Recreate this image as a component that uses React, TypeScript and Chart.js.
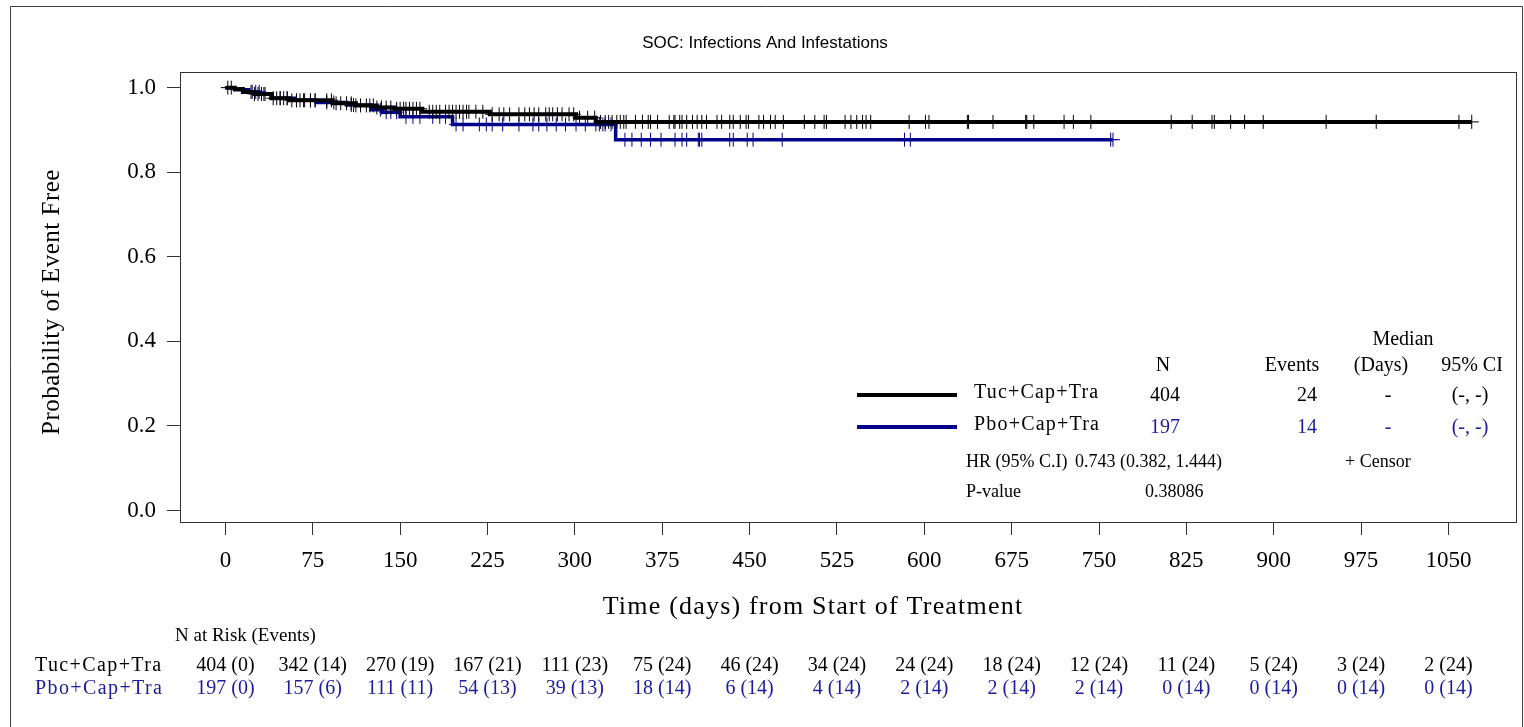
import React, { useEffect, useRef } from "react";
import { Chart, registerables } from "chart.js";

Chart.register(...registerables);

// ---- Data ----
const xTickValues = [0, 75, 150, 225, 300, 375, 450, 525, 600, 675, 750, 825, 900, 975, 1050];
const yTickValues = [0, 0.2, 0.4, 0.6, 0.8, 1.0];

const tucStepDays = [0, 8, 15, 25, 40, 55, 92, 112, 130, 145, 169, 227, 301, 318, 1070];
const tucStepSurv = [1.0, 0.997, 0.99, 0.985, 0.975, 0.97, 0.963, 0.958, 0.953, 0.95, 0.943, 0.937, 0.929, 0.919, 0.919];

const pboStepDays = [0, 8, 20, 30, 39, 60, 78, 104, 125, 135, 150, 195, 335, 762];
const pboStepSurv = [1.0, 0.995, 0.99, 0.985, 0.975, 0.97, 0.965, 0.959, 0.948, 0.942, 0.931, 0.913, 0.877, 0.877];

const tucCensorDays = [2, 5, 22, 25, 28, 31, 34, 41, 44, 47, 50, 53, 57, 61, 64, 68, 73, 77, 87, 91, 95, 99, 104, 108,
  112, 116, 121, 124, 127, 130, 134, 138, 142, 147, 150, 153, 155, 158, 161, 164, 167, 175, 178, 181, 184, 189, 192,
  195, 198, 201, 204, 207, 209, 215, 221, 229, 235, 239, 244, 252, 257, 261, 265, 269, 275, 278, 281, 285, 289, 295,
  299, 304, 311, 317, 322, 326, 329, 332, 336, 339, 342, 344, 352, 358, 363, 365, 371, 381, 385, 386, 390, 392, 396,
  401, 405, 409, 413, 422, 426, 433, 436, 442, 447, 449, 458, 462, 468, 472, 479, 497, 506, 514, 516, 532, 537, 542,
  547, 550, 554, 587, 601, 604, 637, 638, 659, 687, 688, 694, 720, 728, 743, 812, 830, 847, 849, 863, 875, 891, 945,
  988, 1059, 1070];

const pboCensorDays = [23, 26, 29, 33, 47, 53, 61, 67, 73, 77, 87, 93, 108, 110, 133, 138, 142, 147, 155, 161, 167,
  178, 184, 189, 198, 204, 218, 224, 229, 238, 252, 264, 269, 276, 284, 292, 301, 309, 318, 321, 324, 326, 331, 343,
  349, 357, 365, 374, 386, 392, 396, 406, 407, 409, 433, 436, 448, 453, 478, 583, 588, 760, 762];

const tucAtRisk = [404, 342, 270, 167, 111, 75, 46, 34, 24, 18, 12, 11, 5, 3, 2];
const tucAtRiskEvents = [0, 14, 19, 21, 23, 24, 24, 24, 24, 24, 24, 24, 24, 24, 24];
const pboAtRisk = [197, 157, 111, 54, 39, 18, 6, 4, 2, 2, 2, 0, 0, 0, 0];
const pboAtRiskEvents = [0, 6, 11, 13, 13, 14, 14, 14, 14, 14, 14, 14, 14, 14, 14];

const groupNames = ["Tuc+Cap+Tra", "Pbo+Cap+Tra"];
const groupN = ["404", "197"];
const groupEvents = ["24", "14"];
const groupMedian = ["-", "-"];
const groupCI = ["(-, -)", "(-, -)"];
const hrText = "0.743 (0.382, 1.444)";
const pValueText = "0.38086";

const titleText = "SOC: Infections And Infestations";
const xTitle = "Time (days) from Start of Treatment";
const yTitle = "Probability of Event Free";

// ---- Styles ----
const BLACK = "#000000";
const BLUE = "#00008B";
const BLUE_TEXT = "#1c1c9c";
const SERIF = "'Liberation Serif', 'Times New Roman', serif";
const SANS = "'Liberation Sans', Arial, sans-serif";

function survAt(days: number[], surv: number[], t: number) {
  let v = surv[0];
  for (let i = 0; i < days.length; i++) if (days[i] <= t) v = surv[i];
  return v;
}

function setSpacing(ctx: any, px: number) {
  if ("letterSpacing" in ctx) ctx.letterSpacing = `${px}px`;
}

const textPlugin = {
  id: "kmText",
  beforeDraw(chart: any) {
    const ctx = chart.ctx;
    ctx.save();
    ctx.fillStyle = "#ffffff";
    ctx.fillRect(0, 0, chart.width, chart.height);
    ctx.strokeStyle = "#404040";
    ctx.lineWidth = 1;
    ctx.beginPath();
    ctx.moveTo(10.5, chart.height);
    ctx.lineTo(10.5, 6.5);
    ctx.lineTo(1522.5, 6.5);
    ctx.lineTo(1522.5, chart.height);
    ctx.stroke();
    ctx.restore();
  },
  afterDraw(chart: any) {
    const ctx = chart.ctx;
    const a = chart.chartArea;
    const xs = chart.scales.x;
    ctx.save();
    // plot box
    ctx.strokeStyle = "#333333";
    ctx.lineWidth = 1;
    ctx.strokeRect(Math.round(a.left) + 0.5, Math.round(a.top) + 0.5, Math.round(a.right - a.left), Math.round(a.bottom - a.top));

    // title
    ctx.fillStyle = "#000";
    ctx.textBaseline = "middle";
    ctx.textAlign = "center";
    ctx.font = `17px ${SANS}`;
    ctx.fillText(titleText, 765, 43);

    // axis titles
    ctx.font = `26px ${SERIF}`;
    setSpacing(ctx, 1.2);
    ctx.fillText(xTitle, 813, 607);
    ctx.font = `25px ${SERIF}`;
    setSpacing(ctx, 0.5);
    ctx.save();
    ctx.translate(52, 302);
    ctx.rotate(-Math.PI / 2);
    ctx.fillText(yTitle, 0, 0);
    ctx.restore();
    setSpacing(ctx, 0);

    // legend table
    ctx.font = `20px ${SERIF}`;
    ctx.textAlign = "center";
    ctx.fillText("Median", 1403, 340);
    ctx.fillText("N", 1163, 366);
    ctx.fillText("Events", 1292, 366);
    ctx.fillText("(Days)", 1381, 366);
    ctx.fillText("95% CI", 1472, 366);
    const rowY = [395, 427];
    const lineCol = [BLACK, BLUE];
    const txtCol = ["#000", BLUE_TEXT];
    for (let i = 0; i < 2; i++) {
      ctx.strokeStyle = lineCol[i];
      ctx.lineWidth = 4;
      ctx.beginPath();
      ctx.moveTo(857, rowY[i]);
      ctx.lineTo(957, rowY[i]);
      ctx.stroke();
      ctx.fillStyle = "#000";
      ctx.textAlign = "left";
      setSpacing(ctx, 1.2);
      ctx.fillText(groupNames[i], 974, rowY[i] - 2);
      setSpacing(ctx, 0);
      ctx.fillStyle = txtCol[i];
      ctx.textAlign = "center";
      ctx.fillText(groupN[i], 1165, rowY[i] + 1);
      ctx.fillText(groupEvents[i], 1307, rowY[i] + 1);
      ctx.fillText(groupMedian[i], 1388, rowY[i] + 1);
      ctx.fillText(groupCI[i], 1470, rowY[i] + 1);
    }
    ctx.fillStyle = "#000";
    ctx.font = `18px ${SERIF}`;
    ctx.textAlign = "left";
    ctx.fillText("HR (95% C.I)", 966, 462);
    ctx.fillText(hrText, 1075, 462);
    ctx.fillText("+ Censor", 1345, 462);
    ctx.fillText("P-value", 966, 492);
    ctx.fillText(pValueText, 1145, 492);

    // at-risk table
    ctx.font = `19px ${SERIF}`;
    ctx.textAlign = "left";
    ctx.fillText("N at Risk (Events)", 175, 636);
    ctx.font = `20px ${SERIF}`;
    setSpacing(ctx, 1.4);
    ctx.fillText(groupNames[0], 35, 666);
    ctx.fillStyle = BLUE_TEXT;
    ctx.fillText(groupNames[1], 35, 689);
    setSpacing(ctx, 0);
    ctx.textAlign = "center";
    for (let i = 0; i < xTickValues.length; i++) {
      const px = xs.getPixelForValue(xTickValues[i]);
      ctx.fillStyle = "#000";
      ctx.fillText(`${tucAtRisk[i]} (${tucAtRiskEvents[i]})`, px, 666);
      ctx.fillStyle = BLUE_TEXT;
      ctx.fillText(`${pboAtRisk[i]} (${pboAtRiskEvents[i]})`, px, 689);
    }
    ctx.restore();
  },
};

export default function App() {
  const ref = useRef<HTMLCanvasElement | null>(null);
  useEffect(() => {
    if (!ref.current) return;
    const tucLine = tucStepDays.map((d, i) => ({ x: d, y: tucStepSurv[i] }));
    const pboLine = pboStepDays.map((d, i) => ({ x: d, y: pboStepSurv[i] }));
    const tucCens = tucCensorDays.map((d) => ({ x: d, y: survAt(tucStepDays, tucStepSurv, d) }));
    const pboCens = pboCensorDays.map((d) => ({ x: d, y: survAt(pboStepDays, pboStepSurv, d) }));
    const chart = new Chart(ref.current, {
      type: "line",
      data: {
        datasets: [
          { data: tucCens, showLine: false, pointStyle: "cross", pointRadius: 7, borderColor: BLACK, pointBorderWidth: 1, borderWidth: 1, order: 0 } as any,
          { data: tucLine, stepped: "before", borderColor: BLACK, borderWidth: 4, pointRadius: 0, order: 1 } as any,
          { data: pboCens, showLine: false, pointStyle: "cross", pointRadius: 7, borderColor: BLUE, pointBorderWidth: 1, borderWidth: 1, order: 2 } as any,
          { data: pboLine, stepped: "before", borderColor: BLUE, borderWidth: 3.5, pointRadius: 0, order: 3 } as any,
        ],
      },
      options: {
        animation: false,
        responsive: false,
        devicePixelRatio: 1,
        layout: { padding: { top: 72, left: 0, right: 6, bottom: 145 } },
        plugins: { legend: { display: false }, title: { display: false }, tooltip: { enabled: false } },
        scales: {
          x: {
            type: "linear",
            min: -39,
            max: 1108,
            afterBuildTicks: (s: any) => { s.ticks = xTickValues.map((v) => ({ value: v })); },
            afterFit: (s: any) => { s.height = 60; },
            grid: { drawOnChartArea: false, drawTicks: true, tickLength: 13, color: "#333" },
            border: { display: false },
            ticks: { font: { family: SERIF, size: 23 }, color: "#000", padding: 12, maxRotation: 0, autoSkip: false, callback: (v: any) => String(v) },
          },
          y: {
            type: "linear",
            min: -0.027,
            max: 1.037,
            afterBuildTicks: (s: any) => { s.ticks = yTickValues.map((v) => ({ value: v })); },
            afterFit: (s: any) => { s.width = 180; },
            grid: { drawOnChartArea: false, drawTicks: true, tickLength: 13, color: "#333" },
            border: { display: false },
            ticks: { font: { family: SERIF, size: 23 }, color: "#000", padding: 11, callback: (v: any) => Number(v).toFixed(1) },
          },
        },
      } as any,
      plugins: [textPlugin],
    });
    return () => chart.destroy();
  }, []);
  return (
    <div style={{ position: "absolute", left: 0, top: 0, width: 1524, height: 727 }}>
      <canvas ref={ref} width={1524} height={727} style={{ display: "block", width: 1524, height: 727 }} />
    </div>
  );
}
